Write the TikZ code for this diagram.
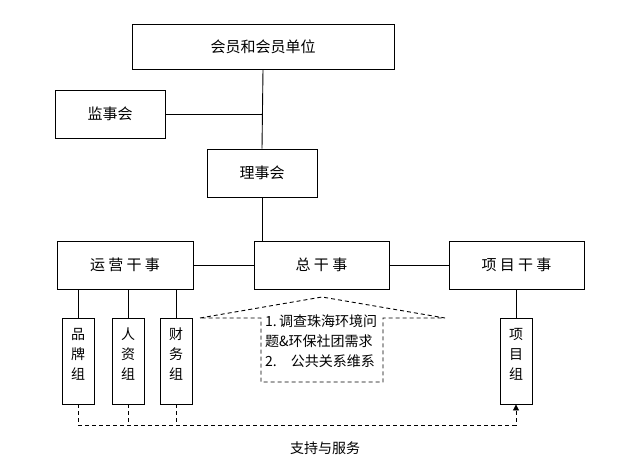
\documentclass[tikz,border=0pt]{standalone}
\usepackage{fontspec}
\setmainfont{Liberation Sans}
\newfontfamily\cjk{Noto Sans CJK SC}
\newfontfamily\cjkw[LetterSpace=22]{Noto Sans CJK SC}
\usepackage{tikz}
\usetikzlibrary{arrows.meta,positioning}
\tikzset{
  box/.style={draw,line width=0.9pt,inner sep=0pt,align=center,font=\cjk\fontsize{15}{18}\selectfont},
  wbox/.style={box,minimum width=135pt,minimum height=48pt,font=\cjkw\fontsize{15}{18}\selectfont},
  vbox/.style={draw,line width=0.9pt,inner sep=0pt,align=center,minimum width=32pt,minimum height=86pt,
    text depth=14pt,font=\cjk\fontsize{14}{20}\selectfont},
  ln/.style={line width=0.9pt},
  dsh/.style={line width=0.9pt,dash pattern=on 4pt off 3pt},
  ar/.style={-{Triangle[length=6pt,width=6pt]},line width=0.9pt,dash pattern=on 4pt off 3pt}
}
\begin{document}
\begin{tikzpicture}[x=1pt,y=-1pt]
\useasboundingbox (0,0) rectangle (641,476);
\node[box,minimum width=262pt,minimum height=45pt] (hy) at (263,46.5) {会员和会员单位};
\node[box,minimum width=110pt,minimum height=48pt] (jsh) at (110,114) {监事会};
\node[box,minimum width=110pt,minimum height=48pt] (lsh) at (262,173) {理事会};
\node[wbox,minimum width=136pt] (yy) at (125,265) {运营干事};
\node[wbox] (zgs) at (321.5,265) {总干事};
\node[wbox] (xm) at (516.5,265) {项目干事};
\node[vbox] (pp) at (78,361) {品\\牌\\组};
\node[vbox] (rz) at (128,361) {人\\资\\组};
\node[vbox] (cw) at (176,361) {财\\务\\组};
\node[vbox] (xmz) at (516,361) {项\\目\\组};
\coordinate (bus) at (0,425);
\draw[ln] (hy.south) -- (lsh.north);
\draw[ln] (jsh.east) -- (jsh.east -| hy.south);
\draw[ln] (lsh.south) -- (zgs.north -| lsh.south);
\draw[ln] (yy.east) -- (zgs.west);
\draw[ln] (zgs.east) -- (xm.west);
\draw[ln] (pp.north) -- (pp.north |- yy.south);
\draw[ln] (rz.north) -- (rz.north |- yy.south);
\draw[ln] (cw.north) -- (cw.north |- yy.south);
\draw[ln] (xmz.north) -- (xmz.north |- xm.south);
\draw[dsh] (rz.south) -- (rz.south |- bus);
\draw[dsh] (cw.south) -- (cw.south |- bus);
\draw[ar] (pp.south) -- (pp.south |- bus) -| (xmz.south);
\draw[dsh] (200,318) -- (322,297) -- (445,318) -- (383,318) -- (383,382) -- (261,382) -- (261,318) -- cycle;
\node[anchor=north west,inner sep=0pt,align=left,font=\cjk\fontsize{14}{20}\selectfont] (note) at (265,314)
  {1.\,调查珠海环境问\\题\&环保社团需求\\2.\quad 公共关系维系};
\node[font=\cjk\fontsize{14}{17}\selectfont] (zc) at (325,448) {支持与服务};
\end{tikzpicture}
\end{document}
